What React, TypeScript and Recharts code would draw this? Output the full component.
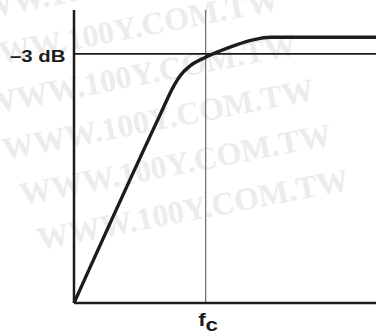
import { LineChart, Line, XAxis, YAxis, ReferenceLine } from "recharts";

// normalized frequency (0..100) and response amplitude (0..100)
const freq = [0, 28.5, 33.1, 35.1, 38.4, 43.6, 48.3, 54.0, 59.3, 64.9, 100];
const gain = [0, 64.2, 74.2, 77.5, 80.9, 83.9, 86.0, 88.2, 89.8, 90.7, 90.7];

const cornerFreq = 43.6;
const minus3dbLevel = 85.0;
const yTickLabel = "\u20133 dB";
const xTickLabel = ["f", "c"];

const data = freq.map((f, i) => ({ f, gain: gain[i] }));

const ink = "#1c1c1c";

function DbTick(props: any) {
  const { x, y } = props;
  return (
    <g transform={`translate(${x - 56},${y + 8.5}) scale(1.2,1)`}>
      <text
        x={0}
        y={0}
        fontFamily="Liberation Sans, Arial, sans-serif"
        fontWeight="bold"
        fontSize={17}
        fill={ink}
      >
        {yTickLabel}
      </text>
    </g>
  );
}

function FcTick(props: any) {
  const { x, y } = props;
  return (
    <g transform={`translate(${x - 7.5},${y + 15}) scale(1.28,1)`}>
      <text
        x={0}
        y={0}
        fontFamily="Liberation Sans, Arial, sans-serif"
        fontWeight="bold"
        fontSize={17.5}
        fill={ink}
      >
        {xTickLabel[0]}
        <tspan dy={5}>{xTickLabel[1]}</tspan>
      </text>
    </g>
  );
}

// faint diagonal site watermark behind the plot
function Watermark() {
  const rows = [0, 1, 2, 3, 4, 5];
  return (
    <svg
      width={376}
      height={333}
      style={{ position: "absolute", left: 0, top: 0 }}
    >
      {rows.map((k) => (
        <text
          key={k}
          x={0}
          y={0}
          transform={`translate(${-48 + 17.5 * k},${25 + 45 * k}) rotate(-11)`}
          fontFamily="Liberation Serif, serif"
          fontWeight="bold"
          fontSize={32}
          fill="#ececec"
        >
          WWW.100Y.COM.TW
        </text>
      ))}
    </svg>
  );
}

export default function App() {
  return (
    <div
      style={{
        position: "absolute",
        left: 0,
        top: 0,
        width: 376,
        height: 333,
        background: "#fff",
      }}
    >
      <Watermark />
      <div style={{ position: "absolute", left: 0, top: 0 }}>
        <LineChart
          width={376}
          height={333}
          data={data}
          margin={{ top: 10, right: 0, left: 0, bottom: 0 }}
        >
          <XAxis
            type="number"
            dataKey="f"
            domain={[0, 100]}
            ticks={[cornerFreq]}
            tick={<FcTick />}
            tickLine={false}
            axisLine={{ stroke: ink, strokeWidth: 2.5 }}
            height={30}
          />
          <YAxis
            type="number"
            domain={[0, 100]}
            ticks={[minus3dbLevel]}
            tick={<DbTick />}
            tickLine={false}
            axisLine={{ stroke: ink, strokeWidth: 2.5 }}
            width={74}
          />
          <ReferenceLine x={cornerFreq} stroke="#6a6a6a" strokeWidth={1.2} />
          <ReferenceLine y={minus3dbLevel} stroke={ink} strokeWidth={1.8} />
          <Line
            type="monotone"
            dataKey="gain"
            stroke={ink}
            strokeWidth={3.4}
            dot={false}
            isAnimationActive={false}
          />
        </LineChart>
      </div>
    </div>
  );
}
